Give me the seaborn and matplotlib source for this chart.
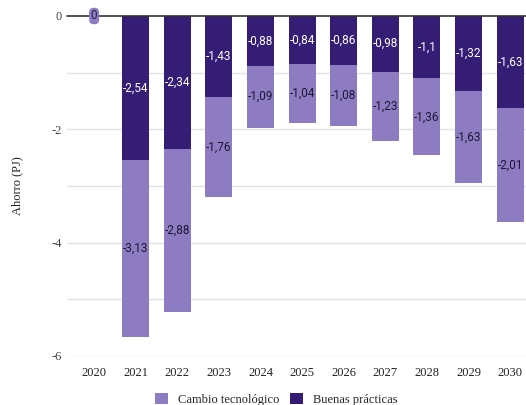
import matplotlib
matplotlib.use("Agg")
import matplotlib.pyplot as plt
import seaborn as sns
import pandas as pd
import numpy as np
from matplotlib.patches import Patch

years = ["2020", "2021", "2022", "2023", "2024", "2025", "2026", "2027", "2028", "2029", "2030"]
buenas = [0, -2.54, -2.34, -1.43, -0.88, -0.84, -0.86, -0.98, -1.1, -1.32, -1.63]
cambio = [0, -3.13, -2.88, -1.76, -1.09, -1.04, -1.08, -1.23, -1.36, -1.63, -2.01]
yticks = [-6, -4, -2, 0]

DARK = "#351c75"
LIGHT = "#8e7cc3"
SERIF = "Liberation Serif"
SANS = "Roboto"

df = pd.DataFrame({"year": years, "buenas": buenas, "cambio": cambio})
df["total"] = df["buenas"] + df["cambio"]

sns.set_theme(style="white")
fig = plt.figure(figsize=(5.26, 4.05), dpi=100)
ax = fig.add_axes([0.1275, 0.121, 0.8725, 0.8395])

for v in range(-6, 0):
    ax.axhline(v, color="#e3e3e3", lw=1, zorder=0)

sns.barplot(data=df, x="year", y="total", color=LIGHT, width=0.65, ax=ax,
            saturation=1, zorder=2, linewidth=0, edgecolor="none")
sns.barplot(data=df, x="year", y="buenas", color=DARK, width=0.65, ax=ax,
            saturation=1, zorder=3, linewidth=0, edgecolor="none")

ax.axhline(0, color="#333333", lw=1.2, zorder=4, clip_on=False)

def fmt(v):
    s = f"{v:.2f}".rstrip("0").rstrip(".")
    return s.replace(".", ",")

for i, (b, c) in enumerate(zip(buenas, cambio)):
    if b == 0 and c == 0:
        ax.text(i, 0, "0", ha="center", va="center", fontsize=8.5, family=SANS,
                color="#222244", zorder=6,
                bbox=dict(boxstyle="round,pad=0.15,rounding_size=0.4", fc=LIGHT, ec="none"))
        continue
    ax.text(i, b / 2, fmt(b), ha="center", va="center", fontsize=8.5, family=SANS,
            color="white", zorder=6)
    ax.text(i, b + c / 2, fmt(c), ha="center", va="center", fontsize=8.5, family=SANS,
            color="#1e1533", zorder=6)

ax.set_ylim(-6, 0)
ax.set_xlim(-0.65, len(years) - 0.62)
ax.set_yticks(yticks)
ax.set_yticklabels([str(t) for t in yticks], family=SERIF, fontsize=9, color="#444444")
ax.set_xticks(range(len(years)))
ax.set_xticklabels(years, family=SERIF, fontsize=9, color="#222222")
ax.tick_params(axis="both", length=0, pad=4)
ax.tick_params(axis="x", pad=8)
ax.set_xlabel("")
ax.set_ylabel("Ahorro (PJ)", family=SERIF, fontsize=9, color="#222222", labelpad=20)
sns.despine(ax=ax, left=True, bottom=True)
ax.grid(False)

handles = [Patch(facecolor=LIGHT, edgecolor="none"), Patch(facecolor=DARK, edgecolor="none")]
fig.legend(handles, ["Cambio tecnológico", "Buenas prácticas"], loc="lower center",
           bbox_to_anchor=(0.525, -0.03), ncol=2, frameon=False,
           prop={"family": SERIF, "size": 9}, handlelength=1.0, handleheight=1.0,
           columnspacing=0.9, handletextpad=0.8)

fig.savefig("out.png", dpi=100)
